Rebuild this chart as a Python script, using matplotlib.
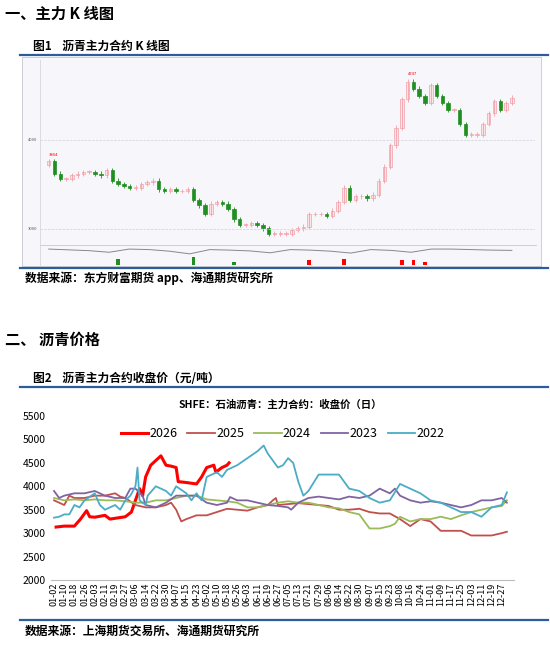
import matplotlib
matplotlib.use("Agg")
import matplotlib.pyplot as plt
import numpy as np
from matplotlib.lines import Line2D

plt.rcParams['font.family'] = ['Noto Sans CJK SC', 'DejaVu Sans']

# ---------------- data ----------------
k_closes = [3722,3762,3623,3563,3563,3603,3623,3643,3643,3623,3603,3663,3543,3504,3484,3464,3464,3504,
            3524,3543,3444,3424,3444,3424,3424,3444,3325,3266,3166,3285,3305,3285,3226,3107,3047,3047,
            3067,3047,3008,2948,2948,2948,2948,2988,3008,3027,3166,3166,3166,3146,3206,3305,3464,3325,
            3365,3365,3345,3385,3543,3702,3940,4139,4457,4655,4576,4496,4417,4615,4496,4417,4337,4337,
            4179,4060,4060,4060,4179,4298,4437,4337,4417,4476]
oi_values = [300,285,270,240,300,290,260,210,290,280,265,230,290,280,260,225,290,275,240,300,300,290,280,275]
vol_idx = [13, 26, 33, 46, 52, 62, 64, 66]
vol_val = [120, 150, 60, 90, 120, 90, 100, 60]

tick_labels = ['01-02','01-10','01-18','01-26','02-03','02-11','02-19','02-27','03-06','03-14','03-22',
               '03-30','04-07','04-15','04-23','05-02','05-10','05-18','05-26','06-03','06-11','06-19',
               '06-27','07-05','07-13','07-21','07-29','08-06','08-14','08-22','08-30','09-07','09-15',
               '09-23','10-08','10-16','10-24','11-01','11-09','11-17','11-25','12-03','12-11','12-19','12-27']

s2026 = [(0.2,3130),(1,3150),(2,3150),(2.6,3300),(3.2,3480),(3.5,3350),(4,3340),(5,3380),(5.5,3300),(7,3350),
         (7.6,3450),(8,3700),(8.4,3950),(8.7,3800),(9,4200),(9.5,4450),(10,4550),(10.5,4650),(11,4450),
         (11.5,4430),(12,4400),(12.2,4100),(13,4080),(14,4050),(14.5,4200),(15,4400),(15.7,4450),(15.9,4300),
         (16.5,4400),(17,4450),(17.2,4500)]
s2025 = [(0,3700),(0.5,3650),(1,3600),(1.5,3800),(2,3750),(3,3750),(4,3800),(5,3800),(6,3850),(6.5,3780),
         (7,3750),(8,3600),(9,3550),(10,3550),(11,3600),(11.5,3650),(12,3500),(12.5,3250),(13,3300),(14,3380),
         (15,3380),(16,3450),(17,3520),(18,3500),(19,3480),(20,3550),(21,3600),(21.5,3700),(21.8,3750),
         (22,3600),(23,3620),(24,3640),(25,3620),(26,3600),(27,3580),(28,3500),(29,3500),(30,3520),(31,3450),
         (32,3420),(33,3420),(34,3300),(35,3150),(36,3300),(37,3250),(38,3050),(39,3050),(40,3050),(41,2950),
         (42,2950),(43,2950),(44,3000),(44.5,3030)]
s2024 = [(0,3750),(1,3700),(2,3720),(3,3700),(4,3720),(5,3700),(6,3700),(7,3680),(8,3650),(9,3650),(10,3700),
         (11,3700),(12,3750),(13,3800),(14,3800),(15,3720),(16,3700),(17,3680),(18,3650),(19,3550),(20,3550),
         (21,3600),(22,3650),(23,3680),(24,3650),(25,3650),(26,3600),(27,3550),(28,3530),(29,3450),(30,3400),
         (31,3100),(32,3100),(33,3150),(33.5,3200),(34,3350),(35,3250),(36,3300),(37,3300),(38,3350),(39,3300),
         (40,3380),(41,3450),(42,3500),(43,3550),(44,3580),(44.5,3700)]
s2023 = [(0,3900),(0.5,3750),(1,3800),(2,3850),(3,3850),(4,3900),(5,3800),(6,3750),(7,3750),(7.5,3950),
         (8,3950),(8.7,3800),(9,3600),(10,3550),(11,3650),(12,3800),(13,3800),(14,3800),(15,3650),(16,3600),
         (17,3650),(17.3,3770),(18,3700),(19,3700),(20,3650),(21,3600),(22,3580),(23,3550),(23.3,3500),
         (24,3650),(25,3750),(26,3780),(27,3750),(28,3720),(29,3780),(30,3750),(31,3800),(32,3950),(33,3850),
         (33.5,3950),(34,3800),(35,3700),(36,3650),(37,3680),(38,3650),(39,3600),(40,3550),(41,3600),
         (42,3700),(43,3700),(44,3750),(44.5,3650)]
s2022 = [(0,3330),(0.5,3350),(1,3400),(1.5,3400),(2,3600),(2.5,3550),(3,3700),(4,3850),(4.5,3600),(5,3500),
         (5.5,3550),(6,3600),(6.5,3500),(7,3700),(7.5,3800),(8,4000),(8.2,4400),(8.4,3700),(9,3600),(9.2,3800),
         (10,4000),(11,3900),(11.5,3800),(12,4000),(13,3850),(13.5,3700),(14,3850),(14.5,3700),(15,4200),
         (16,4300),(16.5,4200),(17,4350),(18,4450),(19,4600),(20,4750),(20.6,4870),(21,4700),(22,4400),
         (22.5,4450),(23,4600),(23.5,4500),(24,4100),(24.5,3800),(25,3900),(26,4250),(27,4250),(28,4250),
         (29,3950),(30,3900),(31,3750),(32,3650),(33,3700),(34,4050),(35,3950),(36,3850),(37,3700),(38,3650),
         (39,3550),(40,3450),(41,3450),(42,3350),(43,3550),(44,3600),(44.5,3870)]
series_names = ['2026', '2025', '2024', '2023', '2022']

# ---------------- figure ----------------
W, H = 550, 645
fig = plt.figure(figsize=(W/100, H/100), dpi=100)
fig.patch.set_facecolor('white')

def rect(x0, y0, x1, y1):
    return [x0/W, 1-y1/H, (x1-x0)/W, (y1-y0)/H]

def txt(x, y, s, **kw):
    fig.text(x/W, 1-y/H, s, va='center', **kw)

def hline(y, x0=20, x1=548, lw=1.6):
    fig.add_artist(Line2D([x0/W, x1/W], [1-y/H, 1-y/H], color='#2e5c9a', lw=lw))

txt(5, 14, '一、主力 K 线图', fontsize=11, fontweight='bold')
txt(33, 46, '图1    沥青主力合约 K 线图', fontsize=8.5, fontweight='bold')
hline(55)
hline(268)
txt(25, 278, '数据来源：东方财富期货 app、海通期货研究所', fontsize=8.5, fontweight='bold')
txt(5, 340, '二、 沥青价格', fontsize=11, fontweight='bold')
txt(33, 378, '图2    沥青主力合约收盘价（元/吨）', fontsize=8.5, fontweight='bold')
hline(387)
hline(620)
txt(25, 631, '数据来源：上海期货交易所、海通期货研究所', fontsize=8.5, fontweight='bold')

# ---- K chart panel ----
bg = fig.add_axes(rect(22, 57, 541, 266))
bg.set_facecolor('#f6f6fb'); bg.set_xticks([]); bg.set_yticks([])
for s in bg.spines.values():
    s.set_color('#c8c8d0'); s.set_linewidth(0.6)
fig.add_artist(Line2D([40/W, 536/W], [1-245/H, 1-245/H], color='#c8c8d0', lw=0.6))
fig.add_artist(Line2D([40/W, 40/W], [1-60/H, 1-266/H], color='#d0d0d8', lw=0.5))

ak = fig.add_axes(rect(40, 62, 535, 237))
ak.set_facecolor('none')
n = len(k_closes)
for i in range(1, n):
    o, c = k_closes[i-1], k_closes[i]
    up = c >= o
    col = '#f2a0a8' if up else '#1f8f1f'
    lo, hi = min(o, c), max(o, c)
    ak.vlines(i, lo-25, hi+25, color=col, lw=0.6)
    ak.bar(i, max(hi-lo, 6), bottom=lo, width=0.6, color=('#fbe3e6' if up else col), edgecolor=col, lw=0.5)
ak.set_xlim(-0.5, n+3)
ak.set_ylim(2910, 4876)
ak.axhline(4000, color='#d0d0d8', lw=0.5, ls='--')
ak.axhline(3000, color='#d0d0d8', lw=0.5, ls='--')
ak.text(-1, 4000, '4000', fontsize=3, ha='right', va='center', color='#555')
ak.text(-1, 3000, '3000', fontsize=3, ha='right', va='center', color='#555')
ak.text(1, k_closes[1]+60, '3804', fontsize=3, color='red')
ak.text(63, k_closes[63]+80, '4747', fontsize=3, color='red')
ak.axis('off')

av = fig.add_axes(rect(40, 248, 535, 265))
av.set_facecolor('none')
av.plot(np.linspace(1, n-1, len(oi_values)), oi_values, color='#888', lw=0.7)
av.bar(vol_idx, vol_val, width=0.6, color=['#1f8f1f', '#1f8f1f', '#1f8f1f', 'red', 'red', 'red', 'red', 'red'])
av.set_xlim(-0.5, n+3); av.set_ylim(0, 320)
av.axis('off')

# ---- line chart ----
ax = fig.add_axes(rect(51, 416, 514, 580))
colors = ['#ff0000', '#c0504d', '#9bbb59', '#8064a2', '#4bacc6']
widths = [2.2, 1.3, 1.3, 1.3, 1.3]
data = [s2026, s2025, s2024, s2023, s2022]
for name, d, c, w in zip(series_names, data, colors, widths):
    ax.plot([p[0] for p in d], [p[1] for p in d], color=c, lw=w, label=name)
ax.set_ylim(2000, 5500)
ax.set_yticks(range(2000, 5501, 500))
ax.set_xlim(-0.3, 45.2)
ax.set_xticks(range(len(tick_labels)))
ax.set_xticklabels(tick_labels, rotation=90, fontsize=6.5)
ax.tick_params(axis='y', labelsize=7.5, length=0)
ax.tick_params(axis='x', length=0, pad=2)
for k in ['top', 'right', 'left']:
    ax.spines[k].set_visible(False)
ax.spines['bottom'].set_color('#bbbbbb')
ax.legend(loc='upper center', bbox_to_anchor=(0.5, 1.0), ncol=5, frameon=False, fontsize=9,
          handlelength=2.2, columnspacing=0.8, handletextpad=0.1)
txt(280, 405, 'SHFE：石油沥青：主力合约：收盘价（日）', fontsize=7.5, fontweight='bold', ha='center')

fig.savefig('out.png', dpi=100)
